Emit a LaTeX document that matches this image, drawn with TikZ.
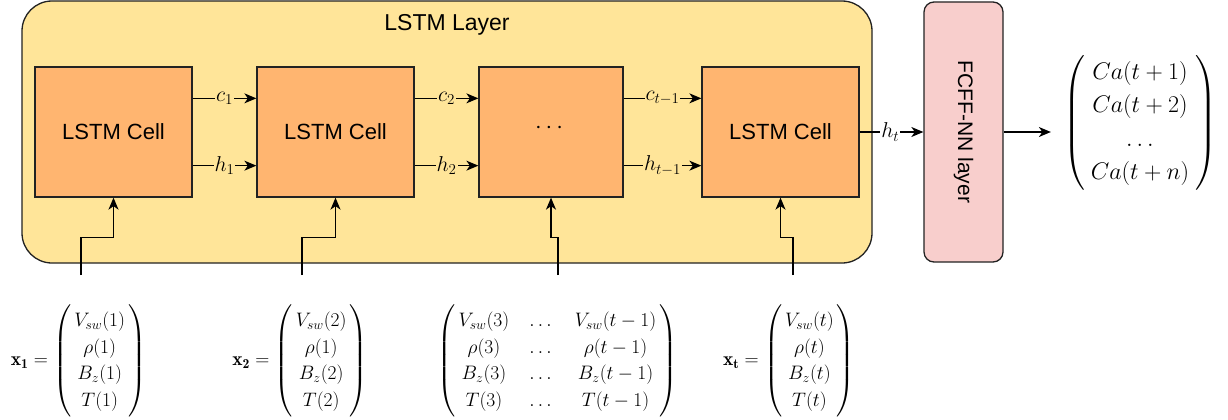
\RequirePackage{fix-cm}
\documentclass[tikz,border=0pt]{standalone}
\usepackage{amsmath}
\usepackage{fontspec}
\newfontfamily\sansfnt{Liberation Sans}
\usetikzlibrary{arrows.meta}
\definecolor{layerfill}{HTML}{FFE599}
\definecolor{cellfill}{HTML}{FFB570}
\definecolor{fcfill}{HTML}{F8CECC}
\definecolor{edge}{HTML}{222222}
\newcommand{\colvec}[1]{\left(\begin{array}{@{\hspace{3pt}}c@{\hspace{3pt}}}#1\end{array}\right)}
\tikzset{
  arr/.style={line width=1.3pt, draw=black, -{Stealth[length=12pt,width=10pt,inset=3.5pt]}},
  layerbox/.style={draw=edge, line width=1.3pt, fill=layerfill, rounded corners=30pt, inner sep=0pt},
  cellbox/.style={draw=edge, line width=1.3pt, fill=cellfill, minimum height=130pt, inner sep=0pt, font=\sansfnt\fontsize{22}{26}\selectfont},
  fcbox/.style={draw=edge, line width=1.3pt, fill=fcfill, rounded corners=10pt, minimum width=79pt, minimum height=260pt, inner sep=0pt},
  lbl/.style={fill=layerfill, inner sep=1pt, font=\fontsize{21.5}{25}\selectfont},
  vec/.style={inner sep=0pt, font=\fontsize{19.5}{23}\selectfont},
}
\begin{document}
\begin{tikzpicture}[x=1pt, y=-1pt]
\useasboundingbox (0,0) rectangle (1228,420);
% LSTM layer container
\node[layerbox, minimum width=850pt, minimum height=262pt] (layer) at (447,132) {};
\node[font=\sansfnt\fontsize{23}{28}\selectfont, inner sep=0pt, anchor=base] (title) at (447,31) {LSTM Layer};
% cells
\node[cellbox, minimum width=157pt] (c1) at (113.5,132) {LSTM Cell};
\node[cellbox, minimum width=157pt] (c2) at (335.5,132) {LSTM Cell};
\node[cellbox, minimum width=144pt] (c3) at (551,132) {};
\node[font=\fontsize{24}{28}\selectfont, inner sep=0pt] (dots) at (551,128) {$\cdots$};
\node[cellbox, minimum width=157pt] (c4) at (780.5,132) {LSTM Cell};
% FCFF
\node[fcbox] (fc) at (963.5,132) {};
\node[rotate=-90, font=\sansfnt\fontsize{21}{25}\selectfont, inner sep=0pt] (fctext) at (963.5,132) {FCFF-NN layer};
% recurrent arrows
\draw[arr] ([yshift=-32pt]c1.north east) -- node[lbl]{$c_1$} ([yshift=-32pt]c2.north west);
\draw[arr] ([yshift=32pt]c1.south east) -- node[lbl]{$h_1$} ([yshift=32pt]c2.south west);
\draw[arr] ([yshift=-32pt]c2.north east) -- node[lbl]{$c_2$} ([yshift=-32pt]c3.north west);
\draw[arr] ([yshift=32pt]c2.south east) -- node[lbl]{$h_2$} ([yshift=32pt]c3.south west);
\draw[arr] ([yshift=-32pt]c3.north east) -- node[lbl]{$c_{t-1}$} ([yshift=-32pt]c4.north west);
\draw[arr] ([yshift=32pt]c3.south east) -- node[lbl]{$h_{t-1}$} ([yshift=32pt]c4.south west);
\draw[arr] (c4.east) -- node[lbl, fill=white, pos=0.48]{$h_t$} (fc.west);
% output
\node[inner sep=0pt, font=\fontsize{24}{28.8}\selectfont] (out) at (1140,123)
  {$\renewcommand{\arraystretch}{1.16}\left(\begin{array}{@{\hspace{6pt}}c@{\hspace{6pt}}} Ca(t+1)\\ Ca(t+2)\\ \dots\\ Ca(t+n)\end{array}\right)$};
\coordinate (outend) at ([xshift=-12pt]out.west |- fc.east);
\draw[arr] (fc.east) -- (outend);
% input vectors
\node[vec] (x1) at (78.5,361)
  {$\renewcommand{\arraystretch}{1.16}\mathbf{x_1} = \colvec{V_{sw}(1)\\ \rho(1)\\ B_z(1)\\ T(1)}$};
\node[vec] (x2) at (300,361)
  {$\renewcommand{\arraystretch}{1.16}\mathbf{x_2} = \colvec{V_{sw}(2)\\ \rho(1)\\ B_z(2)\\ T(2)}$};
\node[vec] (x3) at (557.5,361)
  {$\renewcommand{\arraystretch}{1.16}\setlength{\arraycolsep}{10pt}\left(\begin{array}{@{\hspace{3pt}}ccc@{\hspace{3pt}}} V_{sw}(3) & \dots & V_{sw}(t-1)\\ \rho(3) & \dots & \rho(t-1)\\ B_z(3) & \dots & B_z(t-1)\\ T(3) & \dots & T(t-1)\end{array}\right)$};
\node[vec] (xt) at (789,361)
  {$\renewcommand{\arraystretch}{1.16}\mathbf{x_t} = \colvec{V_{sw}(t)\\ \rho(t)\\ B_z(t)\\ T(t)}$};
% input arrows
\coordinate (in1) at (81,275);
\coordinate (in2) at (302,275);
\coordinate (in3) at (558,275);
\coordinate (in4) at (793,275);
\draw[arr] (in1) |- ([yshift=-40pt]c1.south) -- (c1.south);
\draw[arr] (in2) |- ([yshift=-40pt]c2.south) -- (c2.south);
\draw[arr] (in3) |- ([yshift=-40pt]c3.south) -- (c3.south);
\draw[arr] (in4) |- ([yshift=-40pt]c4.south) -- (c4.south);
\end{tikzpicture}
\end{document}
